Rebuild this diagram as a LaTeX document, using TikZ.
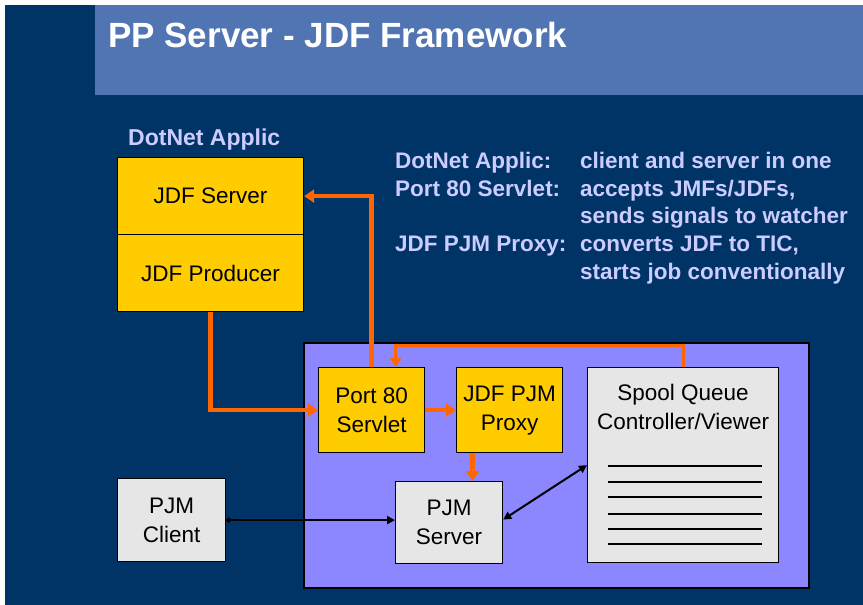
\documentclass[tikz,border=0pt]{standalone}
\usepackage{fontspec}
\setmainfont{Liberation Sans}
\usetikzlibrary{arrows.meta,calc}
\definecolor{navy}{RGB}{0,51,102}
\definecolor{titlebar}{RGB}{80,117,178}
\definecolor{lav}{RGB}{204,204,255}
\definecolor{ybox}{RGB}{255,204,0}
\definecolor{pbox}{RGB}{140,135,255}
\definecolor{gbox}{RGB}{230,230,230}
\definecolor{orng}{RGB}{255,102,0}
\tikzset{
  boxbase/.style={draw=black, line width=1.2pt, inner sep=0pt, align=center,
    font=\fontsize{22.5}{29}\selectfont, anchor=north west},
  yelbox/.style={boxbase, fill=ybox},
  grybox/.style={boxbase, fill=gbox},
  oarrow/.style={draw=orng, line width=4.5pt, -{Triangle[length=10pt,width=13pt]}},
  oarrowthin/.style={draw=orng, line width=3pt, -{Triangle[length=9pt,width=11pt]}},
  barrow/.style={draw=black, line width=2pt},
  sidetxt/.style={text=lav, font=\bfseries\fontsize{22.5}{26}\selectfont, anchor=base west, inner sep=0pt}
}
\begin{document}
\begin{tikzpicture}[x=1pt,y=-1pt]
\useasboundingbox (0,0) rectangle (863,605);
\fill[white] (0,0) rectangle (863,605);
\fill[navy] (5,5) rectangle (863,605);
\fill[titlebar] (95,5) rectangle (863,95);
\node[anchor=base west, text=white, inner sep=0pt, font=\bfseries\fontsize{35}{40}\selectfont] (title) at (108,47) {PP Server - JDF Framework};

% DotNet Applic
\node[anchor=base west, text=lav, inner sep=0pt, font=\bfseries\fontsize{23}{26}\selectfont] (dotlbl) at (128,145) {DotNet Applic};
\node[yelbox, minimum width=186pt, minimum height=77pt] (srv) at (117,157) {JDF Server};
\node[yelbox, minimum width=186pt, minimum height=77pt] (prod) at (117,234) {JDF Producer};

% side text
\node[sidetxt] (l1) at (395,168) {DotNet Applic:};
\node[sidetxt] (l2) at (395,196) {Port 80 Servlet:};
\node[sidetxt] (l4) at (395,251) {JDF PJM Proxy:};
\node[sidetxt] (r1) at (580,168) {client and server in one};
\node[sidetxt] (r2) at (580,196) {accepts JMFs/JDFs,};
\node[sidetxt] (r3) at (580,223) {sends signals to watcher};
\node[sidetxt] (r4) at (580,251) {converts JDF to TIC,};
\node[sidetxt] (r5) at (580,279) {starts job conventionally};

% purple area
\node[draw=black, line width=1.5pt, fill=pbox, minimum width=505pt, minimum height=245pt, anchor=north west, inner sep=0pt] (area) at (303,342) {};

\node[yelbox, minimum width=106pt, minimum height=85pt] (port) at (318,367) {Port 80\\Servlet};
\node[yelbox, minimum width=106pt, minimum height=85pt] (proxy) at (456,367) {JDF PJM\\Proxy};
\node[grybox, minimum width=191pt, minimum height=195pt] (spool) at (587,367) {};
\node[anchor=north, align=center, inner sep=0pt, font=\fontsize{22.5}{29}\selectfont] (spooltxt) at ([yshift=-17pt]spool.north) {Spool Queue\\Controller/Viewer};
\foreach \yy in {466,482,497,514,529,544} \draw[line width=1.2pt] (608,\yy) -- (762,\yy);
\node[grybox, minimum width=107pt, minimum height=82pt] (pjms) at (395,481) {PJM\\Server};
\node[grybox, minimum width=108pt, minimum height=83pt] (pjmc) at (117,478) {PJM\\Client};

% connectors
\draw[oarrow] (prod.south) |- (port.west);
\draw[oarrow] (port.north) |- (srv.east);
\draw[oarrowthin] (spool.north) -- ++(0,-22) -| ([xshift=24pt]port.north);
\draw[oarrow] (port.east) -- (proxy.west);
\coordinate (pd) at ([xshift=-37pt]proxy.south);
\draw[oarrow] (pd) -- (pd |- pjms.north);
\draw[barrow, {Circle[length=5pt]}-{Triangle[length=8pt,width=8pt]}] (pjmc.east) -- (pjmc.east -| pjms.west);
\draw[barrow, {Triangle[length=8pt,width=8pt]}-{Triangle[length=8pt,width=8pt]}] ([yshift=3pt]pjms.east) -- (spool.west);
\end{tikzpicture}
\end{document}
